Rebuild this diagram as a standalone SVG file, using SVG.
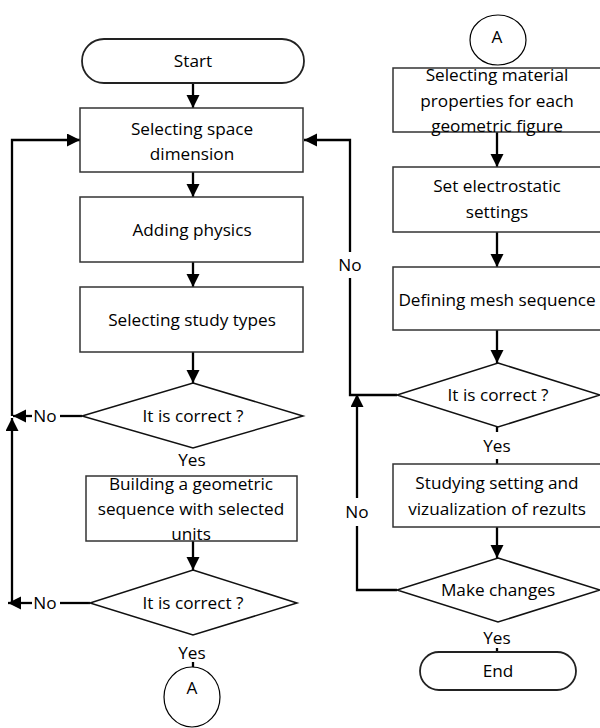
<svg xmlns="http://www.w3.org/2000/svg" width="600" height="728" viewBox="0 0 600 728">
<style>
.box{fill:#fff;stroke:#333;stroke-width:1.5}
.term{fill:#fff;stroke:#222;stroke-width:1.8}
.dia{fill:#fff;stroke:#111;stroke-width:1.5}
.con{fill:none;stroke:#000;stroke-width:2.3}
text{font-family:"Open Sans","Liberation Sans",Arial,sans-serif;font-size:17.2px;fill:#000;text-anchor:middle}
</style>
<defs>
<marker id="ah" markerUnits="userSpaceOnUse" markerWidth="16" markerHeight="16" refX="13" refY="6.5" orient="auto">
<path d="M0,0 L13,6.5 L0,13 z" fill="#000"/>
</marker>
</defs>
<g id="connectors">
<line class="con" x1="193" y1="83" x2="193" y2="108" marker-end="url(#ah)"/>
<line class="con" x1="193" y1="172" x2="193" y2="197" marker-end="url(#ah)"/>
<line class="con" x1="193" y1="262" x2="193" y2="287" marker-end="url(#ah)"/>
<line class="con" x1="193" y1="352" x2="193" y2="383" marker-end="url(#ah)"/>
<line class="con" x1="82" y1="416" x2="60" y2="416"/>
<line class="con" x1="32" y1="416" x2="13" y2="416" marker-end="url(#ah)"/>
<polyline class="con" points="12,416 12,140 80,140" marker-end="url(#ah)"/>
<line class="con" x1="12" y1="603" x2="12" y2="418" marker-end="url(#ah)"/>
<line class="con" x1="90" y1="603" x2="60" y2="603"/>
<line class="con" x1="32" y1="603" x2="8" y2="603" marker-end="url(#ah)"/>
<line class="con" x1="193" y1="541" x2="193" y2="570" marker-end="url(#ah)"/>
<line class="con" x1="193" y1="662" x2="193" y2="667" stroke-width="1"/>
<line class="con" x1="497" y1="132" x2="497" y2="167" marker-end="url(#ah)"/>
<line class="con" x1="497" y1="232" x2="497" y2="267" marker-end="url(#ah)"/>
<line class="con" x1="497" y1="330" x2="497" y2="363" marker-end="url(#ah)"/>
<polyline class="con" points="397,395 350,395 350,278"/>
<polyline class="con" points="350,252 350,140 304,140" marker-end="url(#ah)"/>
<line class="con" x1="497" y1="427" x2="497" y2="432"/>
<line class="con" x1="497" y1="459" x2="497" y2="464" stroke-width="1"/>
<line class="con" x1="497" y1="527" x2="497" y2="558" marker-end="url(#ah)"/>
<polyline class="con" points="397,590 357,590 357,526"/>
<line class="con" x1="357" y1="498" x2="357" y2="394" marker-end="url(#ah)"/>
<line class="con" x1="497" y1="648" x2="497" y2="652" stroke-width="1"/>
</g>
<g id="start">
<rect class="term" x="82" y="39" width="222" height="44" rx="22"/>
<text x="193" y="67">Start</text>
</g>
<g id="space-dimension">
<rect class="box" x="80" y="108" width="223" height="64"/>
<text x="192" y="135">Selecting space</text>
<text x="192" y="160">dimension</text>
</g>
<g id="adding-physics">
<rect class="box" x="80" y="197" width="223" height="65"/>
<text x="192" y="236">Adding physics</text>
</g>
<g id="study-types">
<rect class="box" x="80" y="287" width="223" height="65"/>
<text x="192" y="326">Selecting study types</text>
</g>
<g id="decision1">
<polygon class="dia" points="193,383 303,416 193,448 82,416"/>
<text x="193" y="422">It is correct ?</text>
<text x="45" y="422">No</text>
<text x="192" y="466">Yes</text>
</g>
<g id="geometric-sequence">
<rect class="box" x="86" y="476" width="211" height="65"/>
<text x="191" y="490">Building a geometric</text>
<text x="191" y="515">sequence with selected</text>
<text x="191" y="540">units</text>
</g>
<g id="decision2">
<polygon class="dia" points="193,570 297,603 193,635 90,603"/>
<text x="193" y="609">It is correct ?</text>
<text x="45" y="609">No</text>
<text x="192" y="659">Yes</text>
</g>
<g id="connector-a-out">
<ellipse cx="192" cy="697" rx="28" ry="30" fill="#fff" stroke="#000" stroke-width="1.2"/>
<text x="192" y="694">A</text>
</g>
<g id="connector-a-in">
<ellipse cx="498" cy="40" rx="28" ry="25" fill="#fff" stroke="#000" stroke-width="1.2"/>
<text x="497" y="43">A</text>
</g>
<g id="material-properties">
<rect class="box" x="393" y="68" width="212" height="64"/>
<text x="497" y="81">Selecting material</text>
<text x="497" y="107">properties for each</text>
<text x="497" y="132">geometric figure</text>
</g>
<g id="electrostatic">
<rect class="box" x="393" y="167" width="212" height="65"/>
<text x="497" y="192">Set electrostatic</text>
<text x="497" y="218">settings</text>
</g>
<g id="mesh">
<rect class="box" x="393" y="267" width="212" height="63"/>
<text x="497" y="306">Defining mesh sequence</text>
</g>
<g id="decision3">
<polygon class="dia" points="498,363 600,395 498,427 397,395"/>
<text x="498" y="401">It is correct ?</text>
<text x="350" y="271">No</text>
<text x="497" y="452">Yes</text>
</g>
<g id="studying">
<rect class="box" x="393" y="464" width="212" height="63"/>
<text x="497" y="489">Studying setting and</text>
<text x="497" y="515">vizualization of rezults</text>
</g>
<g id="decision4">
<polygon class="dia" points="498,558 600,590 498,622 397,590"/>
<text x="498" y="596">Make changes</text>
<text x="357" y="518">No</text>
<text x="497" y="644">Yes</text>
</g>
<g id="end">
<rect class="term" x="420" y="652" width="156" height="38" rx="19"/>
<text x="498" y="677">End</text>
</g>
</svg>
